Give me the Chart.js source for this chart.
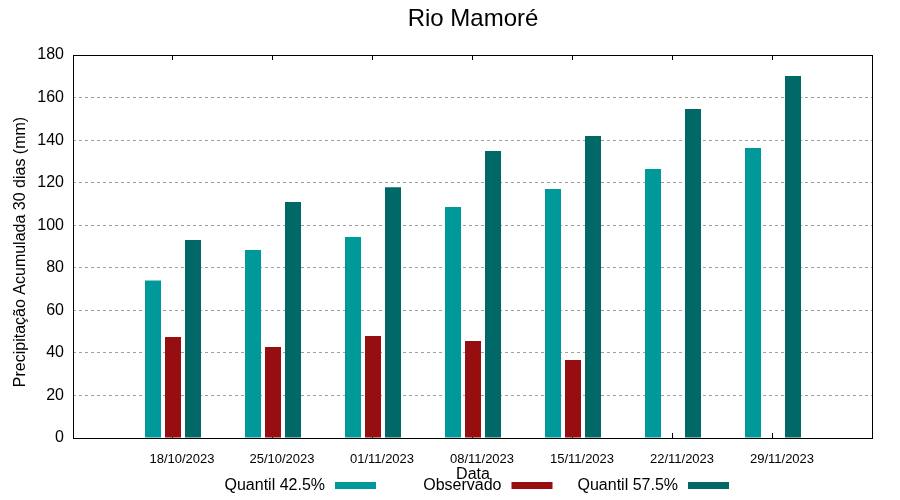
<!DOCTYPE html>
<html>
<head>
<meta charset="utf-8">
<script src="https://cdn.jsdelivr.net/npm/chart.js@4.4.0/dist/chart.umd.min.js"></script>
<style>
  body { margin: 0; background: #ffffff; }
  #chartDiv { width: 900px; height: 500px; }
</style>
</head>
<body>
<div id="chartDiv"><canvas id="myChart"></canvas></div>
<script>
let chartTitle = "Rio Mamoré";
let yTitle = "Precipitação Acumulada 30 dias (mm)";
let datas = ["18/10/2023", "25/10/2023", "01/11/2023", "08/11/2023", "15/11/2023", "22/11/2023", "29/11/2023"];
let quantil425 = [74, 88.3, 94.5, 108.6, 117, 126.4, 136.3];
let observado = [47.5, 42.8, 47.9, 45.6, 36.7, null, null];
let quantil575 = [93, 110.9, 117.9, 134.9, 141.9, 154.6, 170.1];
let yTicks = [0, 20, 40, 60, 80, 100, 120, 140, 160, 180];

let myChart = document.getElementById("myChart");
let fontFamily = "'Liberation Sans', Arial, sans-serif";

// gnuplot leaves one empty slot on each side of the dates
function pad(arr) {
  return [null].concat(arr, [null]);
}
let labels = [""].concat(datas, [""]);

// title, y title, legend (text before swatch) and frame, gnuplot style
const gnuplotLook = {
  id: "gnuplotLook",
  beforeDatasetsDraw(chart) {
    const ctx = chart.ctx;
    const area = chart.chartArea;
    const x = chart.scales.x;
    ctx.save();
    ctx.strokeStyle = "#000000";
    ctx.lineWidth = 1;
    for (let i = 1; i <= datas.length; i++) {
      let px = Math.round(x.getPixelForValue(i)) - 0.5;
      ctx.beginPath();
      ctx.moveTo(px, area.bottom);
      ctx.lineTo(px, area.bottom - 5);
      ctx.moveTo(px, area.top);
      ctx.lineTo(px, area.top + 5);
      ctx.stroke();
    }
    ctx.restore();
  },
  afterDraw(chart) {
    const ctx = chart.ctx;
    const area = chart.chartArea;
    ctx.save();
    ctx.strokeStyle = "#000000";
    ctx.lineWidth = 1;
    ctx.strokeRect(Math.round(area.left) + 0.5, Math.round(area.top) + 0.5,
      Math.round(area.right - area.left) - 1, Math.round(area.bottom - area.top));

    ctx.fillStyle = "#000000";
    ctx.font = "24px " + fontFamily;
    ctx.textAlign = "center";
    ctx.textBaseline = "middle";
    ctx.fillText(chartTitle, (area.left + area.right) / 2, 19);

    ctx.font = "16px " + fontFamily;
    ctx.save();
    ctx.translate(21, 252);
    ctx.rotate(-Math.PI / 2);
    ctx.fillText(yTitle, 0, 0);
    ctx.restore();

    ctx.textAlign = "right";
    chart.data.datasets.forEach((ds, i) => {
      let textRight = 325 + i * 176.5;
      ctx.fillStyle = "#000000";
      ctx.fillText(ds.label, textRight, 486);
      ctx.fillStyle = ds.backgroundColor;
      ctx.fillRect(textRight + 10, 482, 41, 7);
    });
    ctx.restore();
  },
};

const data = {
  labels: labels,
  datasets: [
    {
      label: "Quantil 42.5%",
      backgroundColor: "#009999",
      data: pad(quantil425),
    },
    {
      label: "Observado",
      backgroundColor: "#960e0f",
      data: pad(observado),
    },
    {
      label: "Quantil 57.5%",
      backgroundColor: "#006967",
      data: pad(quantil575),
    },
  ],
};

const config = {
  type: "bar",
  data: data,
  options: {
    responsive: true,
    maintainAspectRatio: false,
    animation: false,
    categoryPercentage: 0.6,
    barPercentage: 0.8,
    layout: { padding: { top: 55, right: 27, left: 0, bottom: 0 } },
    plugins: {
      legend: { display: false },
      title: { display: false },
      tooltip: { enabled: false },
    },
    scales: {
      x: {
        offset: false,
        afterFit: (scale) => { scale.height = 62; },
        grid: { display: false, drawTicks: false },
        border: { display: false },
        ticks: {
          autoSkip: false,
          maxRotation: 0,
          labelOffset: 9,
          padding: 14,
          color: "#000000",
          font: { family: fontFamily, size: 13 },
        },
        title: {
          display: true,
          text: "Data",
          color: "#000000",
          font: { family: fontFamily, size: 16 },
          padding: { top: 0, bottom: 16 },
        },
      },
      y: {
        min: 0,
        max: 180,
        afterFit: (scale) => { scale.width = 73; },
        afterBuildTicks: (scale) => { scale.ticks = yTicks.map((v) => ({ value: v })); },
        grid: { color: "#a0a0a0", lineWidth: 1, drawTicks: false },
        border: { display: false, dash: [3, 3] },
        ticks: {
          padding: 9,
          color: "#000000",
          font: { family: fontFamily, size: 16 },
        },
      },
    },
  },
  plugins: [gnuplotLook],
};

const newChart = new Chart(myChart, config);
</script>
</body>
</html>
